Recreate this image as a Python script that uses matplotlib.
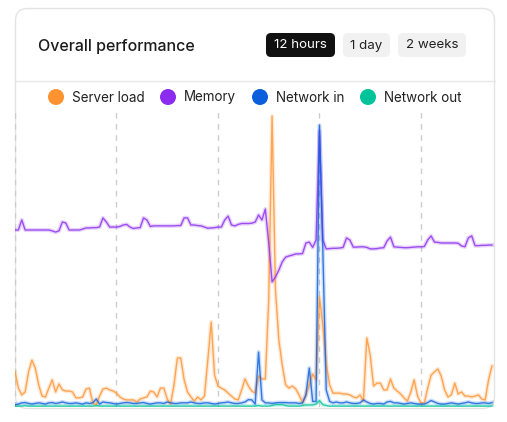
"""
Overall performance card - 4 series over 12 hours
"""
import numpy as np
import matplotlib.pyplot as plt
from matplotlib.patches import FancyBboxPatch, Circle

plt.rcParams['font.family'] = ['Inter', 'DejaVu Sans']

# 5-minute samples, values as % of chart scale
server_load = [11.9, 6.4, 4.1, 5.1, 11.9, 15.9, 13.2, 7.5, 3.7, 3.4,
               6.4, 9.2, 5.1, 7.8, 5.8, 5.4, 5.4, 5.1, 3.1, 3.1,
               3.4, 6.1, 6.4, 1.4, 0.7, 3.7, 6.1, 6.4, 5.8, 5.4,
               4.7, 3.4, 2.7, 2.4, 2.4, 2.4, 1.7, 2.7, 3.1, 3.4,
               5.4, 5.1, 3.4, 6.4, 6.4, 2.7, 1.0, 7.5, 16.6, 16.6,
               9.2, 5.1, 3.4, 2.0, 3.4, 2.4, 3.7, 15.9, 28.8, 10.8,
               7.1, 6.4, 5.8, 4.7, 3.7, 2.7, 2.4, 5.8, 9.5, 7.1,
               5.4, 4.7, 10.5, 9.5, 9.5, 36.3, 98.6, 39.7, 22.7, 14.2,
               7.5, 6.4, 7.1, 6.1, 4.1, 1.4, 4.1, 7.5, 11.2, 9.2,
               37.3, 27.8, 14.6, 7.5, 4.7, 4.7, 4.7, 4.4, 4.4, 4.1,
               3.4, 3.1, 4.1, 2.0, 23.4, 17.6, 7.1, 8.1, 8.1, 5.8,
               5.8, 9.5, 6.4, 5.4, 4.4, 3.1, 2.0, 5.1, 9.2, 3.7,
               1.4, 1.4, 6.4, 10.8, 11.9, 12.9, 10.5, 5.8, 3.4, 4.1,
               8.1, 4.4, 5.1, 3.7, 3.7, 3.4, 3.7, 4.1, 2.7, 2.4,
               9.2, 13.9]
memory = [60.0, 60.0, 63.4, 60.0, 60.0, 60.0, 60.0, 60.0, 60.0, 60.0,
          60.0, 59.7, 59.3, 59.7, 62.7, 62.4, 60.0, 60.0, 60.0, 60.0,
          60.3, 60.7, 60.7, 60.8, 60.8, 61.0, 64.1, 62.7, 61.0, 61.0,
          61.0, 61.2, 61.7, 61.9, 61.0, 60.5, 60.7, 60.8, 64.1, 63.4,
          61.2, 61.4, 61.4, 61.4, 61.4, 61.4, 61.4, 61.4, 61.5, 61.5,
          64.1, 64.1, 61.7, 61.7, 61.5, 61.4, 61.0, 60.6, 60.7, 60.8,
          61.0, 61.0, 63.4, 64.7, 61.7, 61.4, 61.9, 62.2, 62.2, 62.2,
          62.3, 62.7, 65.1, 63.4, 67.1, 55.7, 42.4, 44.1, 46.4, 49.2,
          50.8, 51.2, 51.5, 51.9, 51.9, 52.0, 55.6, 55.9, 54.1, 56.6,
          93.6, 56.6, 53.6, 53.7, 53.8, 53.8, 53.9, 54.1, 57.3, 56.6,
          54.2, 54.2, 54.3, 54.3, 54.1, 53.6, 53.6, 53.7, 53.9, 54.0,
          56.3, 57.6, 54.3, 54.2, 54.1, 54.0, 54.0, 54.1, 54.2, 54.3,
          54.3, 54.4, 56.6, 58.0, 55.9, 55.8, 55.6, 55.6, 55.6, 55.6,
          55.6, 55.5, 54.6, 54.3, 57.3, 58.0, 54.7, 54.7, 54.8, 54.8,
          54.9, 54.9]
network_in = [0.7, 1.0, 1.4, 1.5, 1.2, 1.0, 1.2, 1.4, 1.2, 1.0,
              1.4, 1.5, 1.2, 1.4, 1.7, 1.4, 1.2, 1.2, 1.4, 1.2,
              1.0, 1.4, 1.2, 1.4, 2.7, 1.0, 1.7, 1.5, 1.4, 1.2,
              1.0, 1.2, 1.4, 1.5, 1.4, 1.2, 1.2, 1.4, 1.5, 1.2,
              1.0, 1.2, 1.4, 1.4, 1.2, 1.7, 1.4, 1.2, 1.2, 1.4,
              1.4, 1.4, 1.7, 1.4, 1.2, 1.2, 1.4, 1.4, 1.2, 1.0,
              1.2, 1.4, 1.5, 1.7, 1.4, 1.2, 1.2, 1.4, 1.7, 2.5,
              2.4, 1.0, 18.6, 2.4, 1.4, 1.4, 1.2, 1.4, 1.5, 1.5,
              1.5, 1.4, 1.4, 1.4, 1.2, 1.4, 4.1, 13.2, 1.9, 1.9,
              95.5, 53.2, 5.8, 1.9, 1.4, 1.7, 1.4, 1.4, 1.7, 1.4,
              1.2, 1.2, 1.4, 2.4, 1.7, 1.2, 1.0, 1.2, 1.2, 1.0,
              1.7, 1.9, 1.4, 1.4, 1.2, 1.0, 1.2, 1.4, 1.2, 1.0,
              1.0, 1.0, 1.5, 2.2, 1.7, 1.2, 1.0, 1.0, 1.2, 1.4,
              1.2, 1.0, 1.2, 1.4, 1.7, 1.4, 1.2, 1.2, 1.4, 1.4,
              1.2, 1.5]
network_out = [0.3, 0.3, 0.3, 0.5, 0.3, 0.3, 0.3, 0.3, 0.3, 0.3,
               0.3, 0.3, 0.3, 0.3, 0.3, 0.3, 0.3, 0.3, 0.3, 0.3,
               0.3, 0.3, 0.3, 0.3, 0.5, 0.3, 0.3, 0.3, 0.3, 0.3,
               0.3, 0.3, 0.3, 0.3, 0.3, 0.3, 0.3, 0.3, 0.3, 0.3,
               0.3, 0.3, 0.3, 0.3, 0.3, 0.3, 0.3, 0.3, 0.3, 0.3,
               0.3, 0.3, 0.3, 0.3, 0.3, 0.3, 0.3, 0.3, 0.3, 0.3,
               0.3, 0.3, 0.3, 0.3, 0.3, 0.3, 0.3, 0.3, 0.3, 0.3,
               0.3, 0.3, 0.5, 0.3, 0.3, 0.3, 0.5, 0.8, 0.8, 0.8,
               0.5, 0.3, 0.3, 0.3, 0.3, 0.5, 0.7, 0.7, 0.7, 1.0,
               2.2, 0.8, 0.5, 0.3, 0.3, 0.3, 0.3, 0.3, 0.3, 0.3,
               0.3, 0.3, 0.3, 0.3, 0.3, 0.3, 0.3, 0.3, 0.3, 0.3,
               0.3, 0.3, 0.3, 0.3, 0.3, 0.3, 0.3, 0.3, 0.3, 0.3,
               0.3, 0.3, 0.3, 0.3, 0.3, 0.3, 0.3, 0.3, 0.3, 0.3,
               0.3, 0.3, 0.3, 0.3, 0.3, 0.3, 0.3, 0.3, 0.3, 0.3,
               0.3, 0.3]

series_names = ['Server load', 'Memory', 'Network in', 'Network out']
series_colors = ['#FF9331', '#8A2BEF', '#0B5FDD', '#00C39A']
ranges = ['12 hours', '1 day', '2 weeks']
grid_every = 30  # 2.5 hours

W, H = 507, 422
fig = plt.figure(figsize=(W / 100, H / 100), dpi=100)
fig.patch.set_facecolor('white')

# background layer in pixel coordinates
bg = fig.add_axes([0, 0, 1, 1])
bg.set_xlim(0, W)
bg.set_ylim(H, 0)
bg.axis('off')

bg.add_patch(FancyBboxPatch((15.5, 8.5), 479, 400, boxstyle='round,pad=0,rounding_size=12',
                            fc='white', ec='#e4e4e4', lw=1))
bg.plot([15.5, 494.5], [80.5, 80.5], color='#e8e8e8', lw=1)

bg.text(38, 46, 'Overall performance', fontsize=11.5, fontweight='medium',
        color='#1c1c1c', va='center', ha='left')

btn_boxes = [(266, 69), (343, 47), (398, 68)]
for i, (lab, (bx, bw)) in enumerate(zip(ranges, btn_boxes)):
    active = i == 0
    bg.add_patch(FancyBboxPatch((bx, 33), bw, 24, boxstyle='round,pad=0,rounding_size=5',
                                fc='#111111' if active else '#f1f1f1', ec='none'))
    bg.text(bx + bw / 2, 45.5, lab, fontsize=9.6, ha='center', va='center',
            color='white' if active else '#222222')

# legend
leg_x = [56, 168, 260, 368]
for name, col, lx in zip(series_names, series_colors, leg_x):
    bg.add_patch(Circle((lx, 97), 8, fc=col, ec='none'))
    bg.text(lx + 16, 97.5, name, fontsize=9.7, color='#222222', va='center', ha='left')

# chart area
ax = fig.add_axes([15 / W, 1 - 407 / H, 479 / W, 295 / H])
ax.patch.set_alpha(0)
x = np.arange(len(server_load))
ax.set_xlim(0, 141.6)
ax.set_ylim(0, 100)
for s in ax.spines.values():
    s.set_visible(False)
ax.set_xticks([])
ax.set_yticks([])

for gx in range(0, len(x), grid_every):
    ax.axvline(gx, color='#cccccc', lw=1, ls=(0, (4, 4)), zorder=1)

data = [server_load, memory, network_in, network_out]
for vals, col in zip(data, series_colors):
    ax.plot(x, vals, color=col, lw=3, alpha=0.2, solid_joinstyle='round', zorder=2)
    ax.plot(x, vals, color=col, lw=1.0, alpha=0.8, solid_joinstyle='round', zorder=3)

fig.savefig('out.png', dpi=100, facecolor='white')
